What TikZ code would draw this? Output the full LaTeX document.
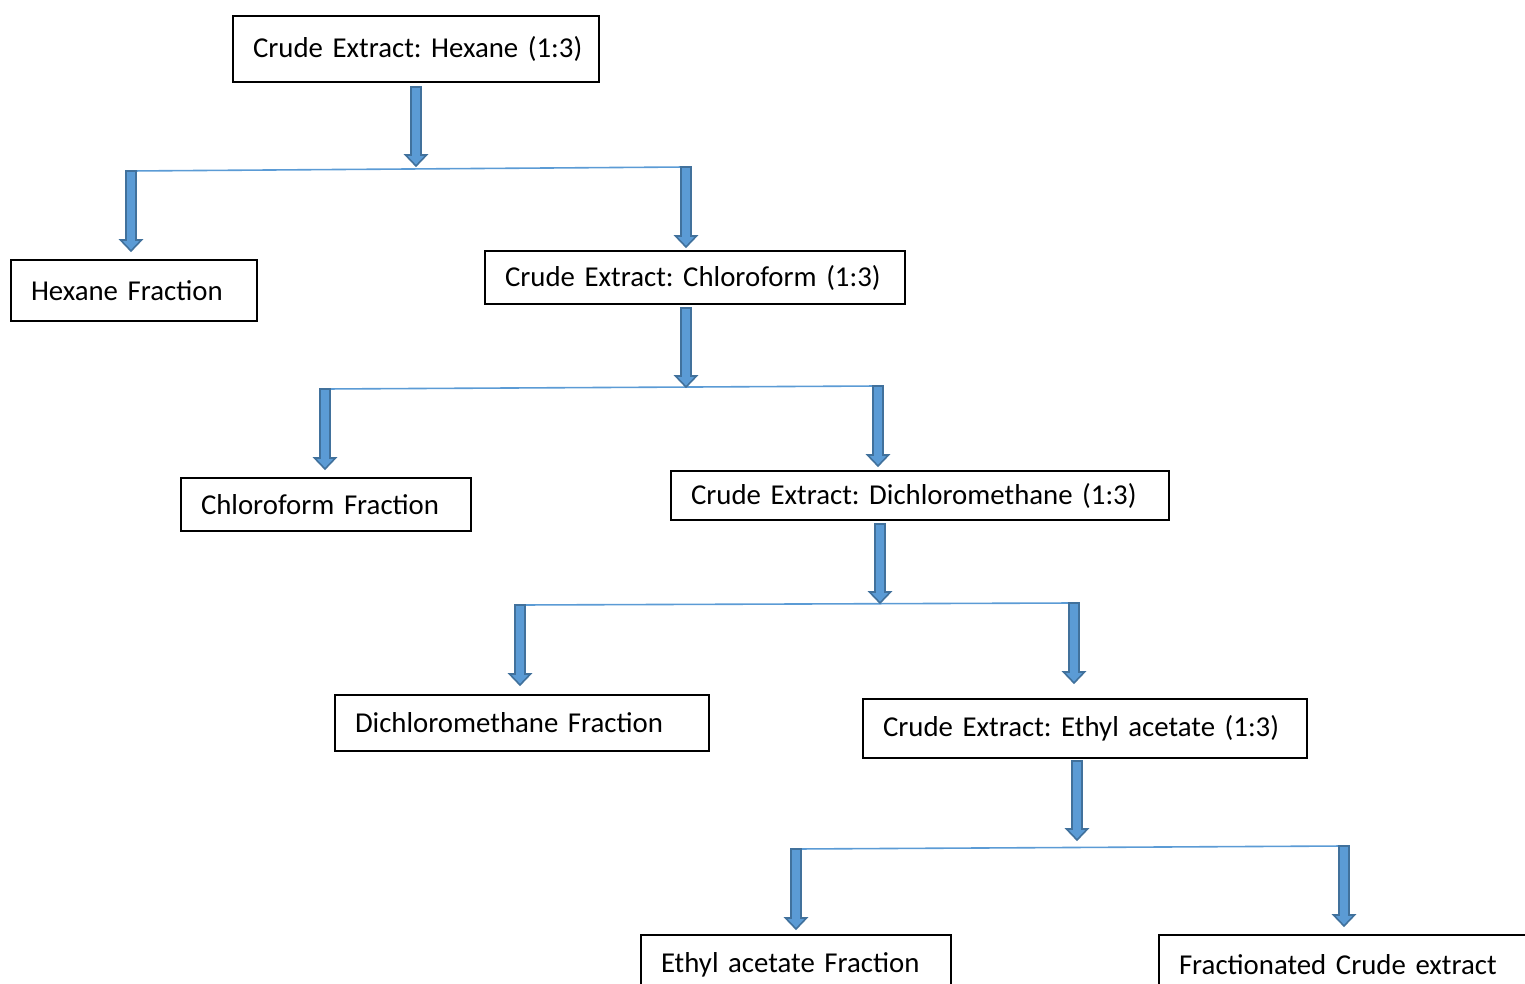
\documentclass[tikz,border=0pt]{standalone}
\usepackage{fontspec}
\setmainfont{Carlito}
\usetikzlibrary{calc}

\definecolor{arrowblue}{HTML}{5B9BD5}
\definecolor{arrowedge}{HTML}{41719C}
\definecolor{splitblue}{HTML}{5B9BD5}

\frenchspacing

\begin{document}
\begin{tikzpicture}[
    x = 0.5pt, y = -0.5pt,
    every node/.style = {font = \fontsize{14.4}{17}\selectfont},
    box/.style = {draw, line width = 1pt, anchor = north west, align = left,
                  inner xsep = 0pt, inner ysep = 0pt,
                  execute at begin node = {\hspace*{10pt}}},
    split/.style = {draw = splitblue, line width = 0.8pt},
    block arrow/.style = {fill = arrowblue, draw = arrowedge, line width = 0.8pt,
      to path = {let \p1 = (\tikztostart), \p2 = (\tikztotarget) in
        (\x1-2.5pt,\y1) -- (\x1+2.5pt,\y1) -- (\x1+2.5pt,\y2+5.5pt)
        -- (\x1+5.25pt,\y2+5.5pt) -- (\x1,\y2) -- (\x1-5.25pt,\y2+5.5pt)
        -- (\x1-2.5pt,\y2+5.5pt) -- cycle}},
  ]
  \useasboundingbox (0,0) rectangle (1525,984);
  \clip (0,0) rectangle (1525,984);

  \node [box, text width = 183pt, minimum height = 33pt] (crude 1) at (232,15)
        {Crude Extract: Hexane (1:3)};
  \node [box, text width = 123pt, minimum height = 30.5pt] (fraction 1) at (10,259)
        {Hexane Fraction};
  \node [box, text width = 210pt, minimum height = 26.5pt] (crude 2) at (484,250)
        {Crude Extract: Chloroform (1:3)};
  \node [box, text width = 145pt, minimum height = 26.5pt] (fraction 2) at (180,477)
        {Chloroform Fraction};
  \node [box, text width = 249pt, minimum height = 24.5pt] (crude 3) at (670,470)
        {Crude Extract: Dichloromethane (1:3)};
  \node [box, text width = 187pt, minimum height = 28pt] (fraction 3) at (334,694)
        {Dichloromethane Fraction};
  \node [box, text width = 222pt, minimum height = 29.5pt] (crude 4) at (862,698)
        {Crude Extract: Ethyl acetate (1:3)};
  \node [box, text width = 155pt, minimum height = 30pt] (fraction 4) at (640,934)
        {Ethyl acetate Fraction};
  \node [box, text width = 191pt, minimum height = 30pt] (crude 5) at (1158,934)
        {Fractionated Crude extract};

  \foreach \i/\mx/\my/\lx/\ly/\rx/\ry in {1/416/87/131/171/686/167,
      2/686/308/325/389/878/386, 3/880/524/520/605/1074/603,
      4/1077/761/796/849/1344/846} {
    \coordinate (out \i) at (\mx,\my);
    \coordinate (fork \i) at (\mx,\my+79);
    \coordinate (left \i) at (\lx,\ly);
    \coordinate (right \i) at (\rx,\ry);
    \coordinate (left end \i) at (\lx,\ly+80);
    \coordinate (right end \i) at (\rx,\ry+80);

    \draw [split] (left \i) -- (right \i);
    \draw [block arrow] (out \i) to (fork \i);
    \draw [block arrow] (left \i) to (left end \i);
    \draw [block arrow] (right \i) to (right end \i);
  }
\end{tikzpicture}
\end{document}
